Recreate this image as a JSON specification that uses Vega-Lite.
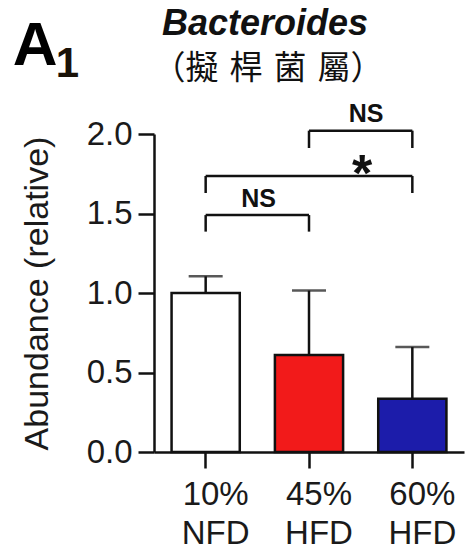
{
  "$schema": "https://vega.github.io/schema/vega-lite/v6.json",
  "width": 310,
  "height": 318,
  "autosize": "none",
  "padding": {"left": 154, "top": 134, "right": 1, "bottom": 97},
  "background": "white",
  "config": {
    "view": {"stroke": null},
    "font": "Liberation Sans",
    "axis": {"grid": false, "domainColor": "#111", "tickColor": "#111", "labelColor": "#1a1a1a", "titleColor": "#1a1a1a", "labelFont": "Liberation Sans", "titleFont": "Liberation Sans"}
  },
  "datasets": {
    "bars": [
      {"g": "10% NFD", "mean": 1.0, "upper": 1.105},
      {"g": "45% HFD", "mean": 0.61, "upper": 1.015},
      {"g": "60% HFD", "mean": 0.335, "upper": 0.66}
    ],
    "brackets": [
      {"a": "10% NFD", "b": "45% HFD", "y": 1.49, "yl": 1.386},
      {"a": "10% NFD", "b": "60% HFD", "y": 1.736, "yl": 1.629},
      {"a": "45% HFD", "b": "60% HFD", "y": 2.021, "yl": 1.912}
    ]
  },
  "layer": [
    {
      "data": {"name": "bars"},
      "mark": {"type": "bar", "stroke": "#111", "strokeWidth": 2.5},
      "encoding": {
        "x": {
          "field": "g", "type": "nominal", "sort": null,
          "scale": {"paddingInner": 0.34, "paddingOuter": 0.17},
          "axis": {
            "title": null, "labelAngle": 0, "labelExpr": "split(datum.label, ' ')",
            "labelFontSize": 33, "labelLineHeight": 39, "labelPadding": 10, "labelOffset": 10,
            "labelBaseline": "top",
            "tickSize": 16, "tickWidth": 2.5, "domainWidth": 2.5
          }
        },
        "y": {
          "field": "mean", "type": "quantitative",
          "scale": {"domain": [0, 2], "nice": false, "zero": true},
          "axis": {
            "title": "Abundance (relative)", "values": [0, 0.5, 1, 1.5, 2], "format": ".1f",
            "labelFontSize": 33, "labelPadding": 6, "tickSize": 16, "tickWidth": 2.5, "domainWidth": 2.5,
            "titleFontSize": 34, "titleFontWeight": "normal", "titlePadding": 32
          }
        },
        "color": {
          "field": "g", "type": "nominal", "sort": null,
          "scale": {"domain": ["10% NFD", "45% HFD", "60% HFD"], "range": ["#ffffff", "#f21a1a", "#1c1caa"]},
          "legend": null
        }
      }
    },
    {
      "data": {"name": "bars"},
      "mark": {"type": "rule", "color": "#111", "strokeWidth": 2.5},
      "encoding": {
        "x": {"field": "g", "type": "nominal", "sort": null},
        "y": {"field": "mean", "type": "quantitative"},
        "y2": {"field": "upper"}
      }
    },
    {
      "data": {"name": "bars"},
      "mark": {"type": "tick", "color": "#111", "thickness": 2.5, "size": 34},
      "encoding": {
        "x": {"field": "g", "type": "nominal", "sort": null},
        "y": {"field": "upper", "type": "quantitative"}
      }
    },
    {
      "data": {"name": "brackets"},
      "mark": {"type": "rule", "color": "#111", "strokeWidth": 2.5},
      "encoding": {
        "x": {"field": "a", "type": "nominal", "sort": null},
        "x2": {"field": "b"},
        "y": {"field": "y", "type": "quantitative"}
      }
    },
    {
      "data": {"name": "brackets"},
      "mark": {"type": "rule", "color": "#111", "strokeWidth": 2.5},
      "encoding": {
        "x": {"field": "a", "type": "nominal", "sort": null},
        "y": {"field": "y", "type": "quantitative"},
        "y2": {"field": "yl"}
      }
    },
    {
      "data": {"name": "brackets"},
      "mark": {"type": "rule", "color": "#111", "strokeWidth": 2.5},
      "encoding": {
        "x": {"field": "b", "type": "nominal", "sort": null},
        "y": {"field": "y", "type": "quantitative"},
        "y2": {"field": "yl"}
      }
    },
    {
      "data": {"values": [{"t": "NS", "g": "10% NFD", "v": 1.541}]},
      "mark": {"type": "text", "font": "Liberation Sans", "fontWeight": "bold", "fontSize": 25, "color": "#111", "align": "center", "baseline": "alphabetic", "dx": 53},
      "encoding": {
        "x": {"field": "g", "type": "nominal", "sort": null},
        "y": {"field": "v", "type": "quantitative"},
        "text": {"field": "t"}
      }
    },
    {
      "data": {"values": [{"t": "NS", "g": "45% HFD", "v": 2.077}]},
      "mark": {"type": "text", "font": "Liberation Sans", "fontWeight": "bold", "fontSize": 25, "color": "#111", "align": "center", "baseline": "alphabetic", "dx": 57},
      "encoding": {
        "x": {"field": "g", "type": "nominal", "sort": null},
        "y": {"field": "v", "type": "quantitative"},
        "text": {"field": "t"}
      }
    },
    {
      "data": {"values": [{"t": "*", "g": "45% HFD", "v": 1.643}]},
      "mark": {"type": "text", "font": "Liberation Sans", "fontWeight": "bold", "fontSize": 52, "color": "#111", "align": "center", "baseline": "alphabetic", "dx": 53},
      "encoding": {
        "x": {"field": "g", "type": "nominal", "sort": null},
        "y": {"field": "v", "type": "quantitative"},
        "text": {"field": "t"}
      }
    },
    {
      "data": {"values": [{"t": "Bacteroides", "g": "45% HFD", "v": 2.623}]},
      "mark": {"type": "text", "font": "Liberation Sans", "fontWeight": "bold", "fontStyle": "italic", "fontSize": 36, "color": "#111", "align": "center", "baseline": "alphabetic", "dx": -44},
      "encoding": {
        "x": {"field": "g", "type": "nominal", "sort": null},
        "y": {"field": "v", "type": "quantitative"},
        "text": {"field": "t"}
      }
    },
    {
      "data": {"values": [{"t": "（擬\u2004桿\u2004菌\u2004屬）", "g": "45% HFD", "v": 2.346}]},
      "mark": {"type": "text", "font": "Noto Sans CJK TC", "fontSize": 33, "color": "#111", "align": "center", "baseline": "alphabetic", "dx": -41},
      "encoding": {
        "x": {"field": "g", "type": "nominal", "sort": null},
        "y": {"field": "v", "type": "quantitative"},
        "text": {"field": "t"}
      }
    },
    {
      "data": {"values": [{"t": "A", "g": "10% NFD", "v": 2.434}]},
      "mark": {"type": "text", "font": "Liberation Sans", "fontWeight": "bold", "fontSize": 62, "color": "#000", "align": "left", "baseline": "alphabetic", "dx": -193},
      "encoding": {
        "x": {"field": "g", "type": "nominal", "sort": null},
        "y": {"field": "v", "type": "quantitative"},
        "text": {"field": "t"}
      }
    },
    {
      "data": {"values": [{"t": "1", "g": "10% NFD", "v": 2.36}]},
      "mark": {"type": "text", "font": "Liberation Sans", "fontWeight": "bold", "fontSize": 42, "color": "#1a1208", "align": "left", "baseline": "alphabetic", "dx": -150},
      "encoding": {
        "x": {"field": "g", "type": "nominal", "sort": null},
        "y": {"field": "v", "type": "quantitative"},
        "text": {"field": "t"}
      }
    }
  ]
}
